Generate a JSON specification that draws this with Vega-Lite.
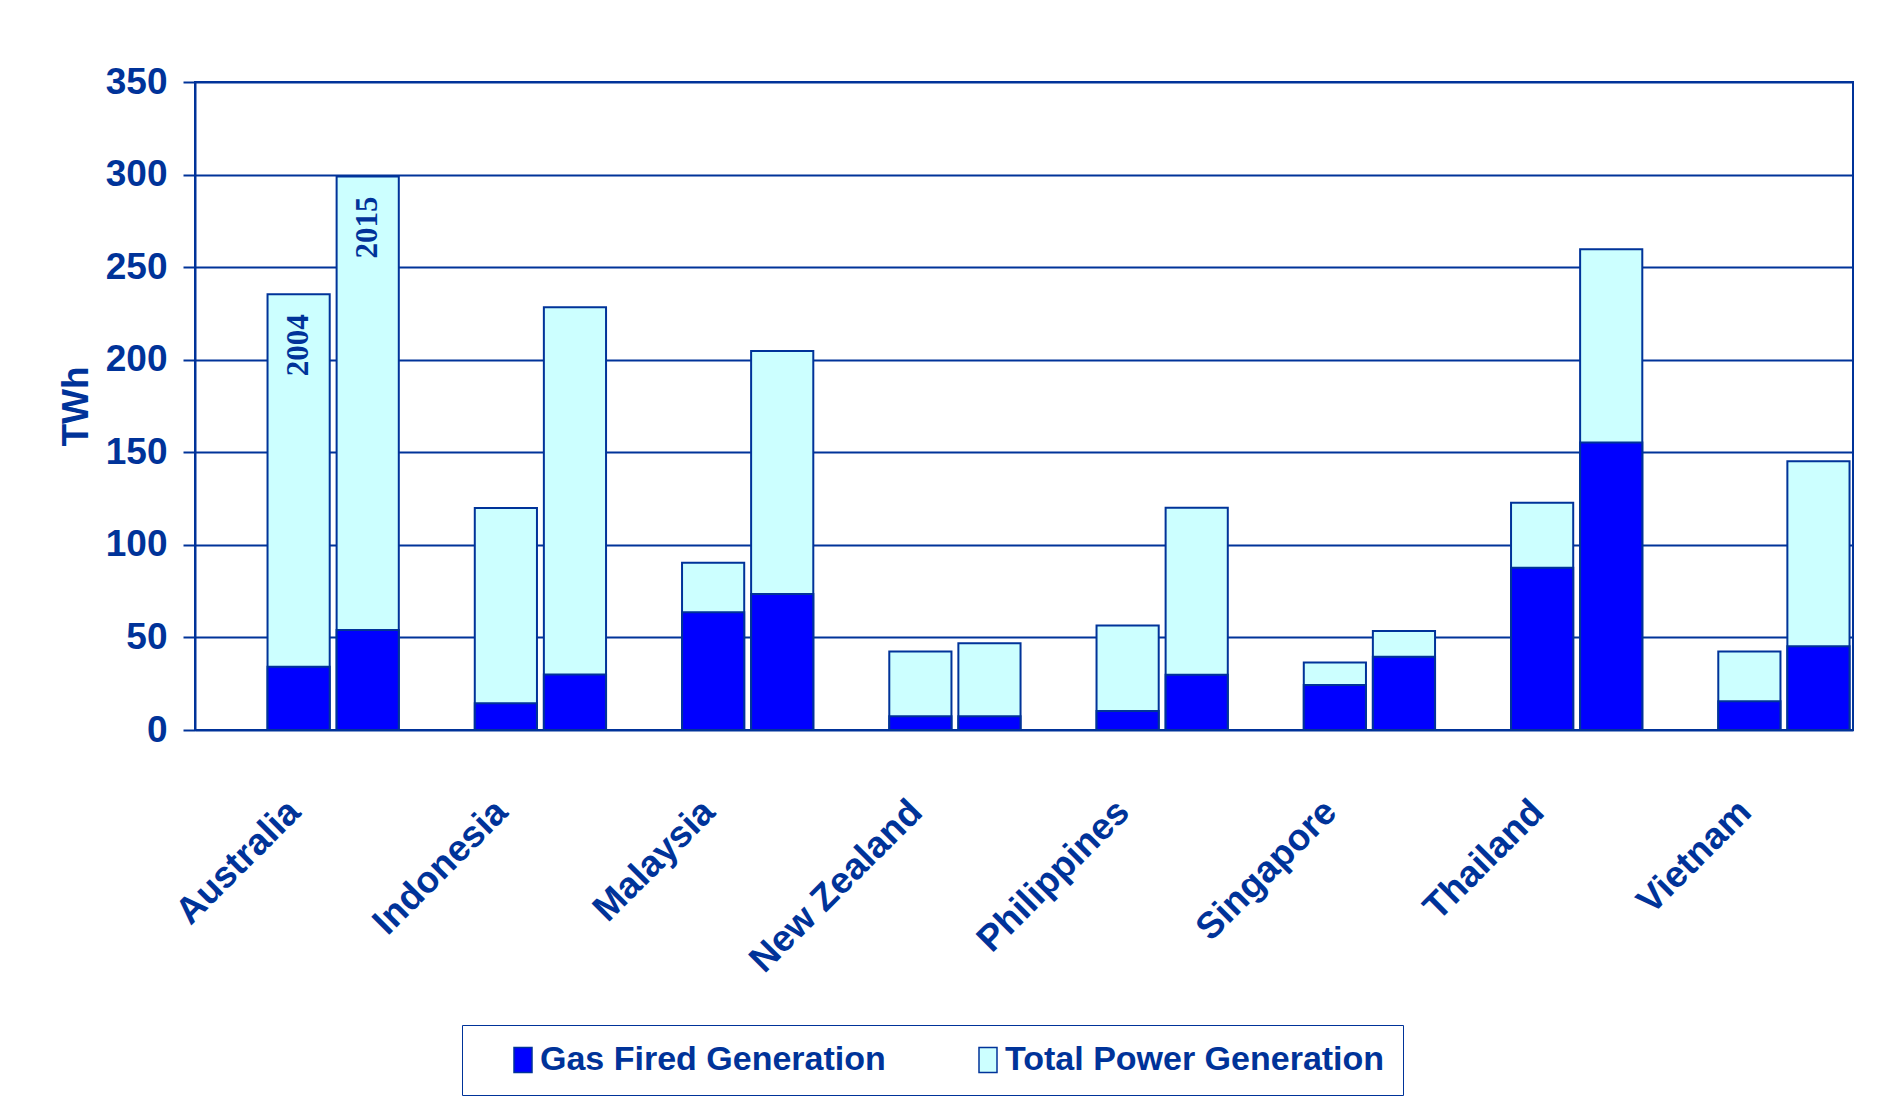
{
  "$schema": "https://vega.github.io/schema/vega-lite/v6.json",
  "width": 1658,
  "height": 648,
  "autosize": {"type": "none"},
  "padding": {"left": 195, "top": 82, "right": 32, "bottom": 387},
  "background": "white",
  "config": {
    "font": "Liberation Sans, Arial, sans-serif",
    "view": {"stroke": "#003399", "strokeWidth": 2}
  },
  "datasets": {
    "gen": [
      {"country": "Australia", "year": "2004", "series": "Total Power Generation", "twh": 235.3},
      {"country": "Australia", "year": "2015", "series": "Total Power Generation", "twh": 298.9},
      {"country": "Indonesia", "year": "2004", "series": "Total Power Generation", "twh": 119.9},
      {"country": "Indonesia", "year": "2015", "series": "Total Power Generation", "twh": 228.4},
      {"country": "Malaysia", "year": "2004", "series": "Total Power Generation", "twh": 90.4},
      {"country": "Malaysia", "year": "2015", "series": "Total Power Generation", "twh": 204.7},
      {"country": "New Zealand", "year": "2004", "series": "Total Power Generation", "twh": 42.4},
      {"country": "New Zealand", "year": "2015", "series": "Total Power Generation", "twh": 46.8},
      {"country": "Philippines", "year": "2004", "series": "Total Power Generation", "twh": 56.5},
      {"country": "Philippines", "year": "2015", "series": "Total Power Generation", "twh": 120.0},
      {"country": "Singapore", "year": "2004", "series": "Total Power Generation", "twh": 36.4},
      {"country": "Singapore", "year": "2015", "series": "Total Power Generation", "twh": 53.5},
      {"country": "Thailand", "year": "2004", "series": "Total Power Generation", "twh": 122.7},
      {"country": "Thailand", "year": "2015", "series": "Total Power Generation", "twh": 259.6},
      {"country": "Vietnam", "year": "2004", "series": "Total Power Generation", "twh": 42.4},
      {"country": "Vietnam", "year": "2015", "series": "Total Power Generation", "twh": 145.2},
      {"country": "Australia", "year": "2004", "series": "Gas Fired Generation", "twh": 34.1},
      {"country": "Australia", "year": "2015", "series": "Gas Fired Generation", "twh": 54.0},
      {"country": "Indonesia", "year": "2004", "series": "Gas Fired Generation", "twh": 14.5},
      {"country": "Indonesia", "year": "2015", "series": "Gas Fired Generation", "twh": 30.0},
      {"country": "Malaysia", "year": "2004", "series": "Gas Fired Generation", "twh": 63.6},
      {"country": "Malaysia", "year": "2015", "series": "Gas Fired Generation", "twh": 73.4},
      {"country": "New Zealand", "year": "2004", "series": "Gas Fired Generation", "twh": 7.4},
      {"country": "New Zealand", "year": "2015", "series": "Gas Fired Generation", "twh": 7.4},
      {"country": "Philippines", "year": "2004", "series": "Gas Fired Generation", "twh": 10.2},
      {"country": "Philippines", "year": "2015", "series": "Gas Fired Generation", "twh": 29.8},
      {"country": "Singapore", "year": "2004", "series": "Gas Fired Generation", "twh": 24.3},
      {"country": "Singapore", "year": "2015", "series": "Gas Fired Generation", "twh": 39.5},
      {"country": "Thailand", "year": "2004", "series": "Gas Fired Generation", "twh": 87.6},
      {"country": "Thailand", "year": "2015", "series": "Gas Fired Generation", "twh": 155.3},
      {"country": "Vietnam", "year": "2004", "series": "Gas Fired Generation", "twh": 15.5},
      {"country": "Vietnam", "year": "2015", "series": "Gas Fired Generation", "twh": 45.2}
    ],
    "notes": [
      {"country": "Australia", "year": "2004", "twh": 235.3},
      {"country": "Australia", "year": "2015", "twh": 298.9}
    ]
  },
  "encoding": {
    "x": {
      "field": "country",
      "type": "nominal",
      "sort": null,
      "scale": {"paddingInner": 0, "paddingOuter": 0},
      "axis": {
        "title": null,
        "labelAngle": -45,
        "labelAlign": "right",
        "labelBaseline": "middle",
        "labelPadding": 76,
        "labelOffset": -4,
        "labelFontSize": 37,
        "labelFontWeight": "bold",
        "labelColor": "#003399",
        "ticks": false,
        "domain": false,
        "labelLimit": 0
      }
    },
    "xOffset": {
      "field": "year",
      "type": "nominal",
      "scale": {"domain": ["gap", "2004", "2015"], "paddingInner": 0.1, "paddingOuter": 0.05}
    },
    "y": {
      "field": "twh",
      "type": "quantitative",
      "scale": {"domain": [0, 350], "nice": false},
      "axis": {
        "title": "TWh",
        "titleFontSize": 37,
        "titleFontWeight": "bold",
        "titleColor": "#003399",
        "titlePadding": 10,
        "values": [0, 50, 100, 150, 200, 250, 300, 350],
        "labelFontSize": 37,
        "labelFontWeight": "bold",
        "labelColor": "#003399",
        "labelPadding": 16,
        "tickSize": 12,
        "tickColor": "#003399",
        "tickWidth": 2,
        "domainColor": "#003399",
        "domainWidth": 2,
        "grid": true,
        "gridColor": "#003399",
        "gridWidth": 2,
        "gridOpacity": 1
      }
    }
  },
  "layer": [
    {
      "data": {"name": "gen"},
      "mark": {"type": "bar", "stroke": "#003399", "strokeWidth": 2},
      "encoding": {
        "y": {"field": "twh", "type": "quantitative", "stack": null},
        "color": {
          "field": "series",
          "type": "nominal",
          "scale": {"domain": ["Gas Fired Generation", "Total Power Generation"], "range": ["#0000FF", "#CCFFFF"]},
          "legend": {
            "title": null,
            "orient": "none",
            "legendX": 267,
            "legendY": 943,
            "direction": "horizontal",
            "columns": 2,
            "columnPadding": 59,
            "padding": 18,
            "strokeColor": "#003399",
            "fillColor": "white",
            "symbolType": "M-0.72,-1H0.72V1H-0.72Z",
            "symbolSize": 625,
            "symbolStrokeColor": "#003399",
            "symbolStrokeWidth": 1.5,
            "symbolOpacity": 1,
            "symbolOffset": 26,
            "labelOffset": 0,
            "labelFontSize": 34,
            "labelFontWeight": "bold",
            "labelColor": "#003399",
            "labelLimit": 0,
            "labelExpr": "datum.label == 'Total Power Generation' ? datum.label + '\u00a0\u00a0\u00a0\u00a0\u00a0' : datum.label"
          }
        }
      }
    },
    {
      "data": {"name": "notes"},
      "mark": {"type": "text", "angle": 270, "align": "right", "baseline": "middle", "dx": -20, "font": "Liberation Serif", "fontWeight": "bold", "fontSize": 31, "color": "#003399"},
      "encoding": {"text": {"field": "year"}}
    }
  ]
}
